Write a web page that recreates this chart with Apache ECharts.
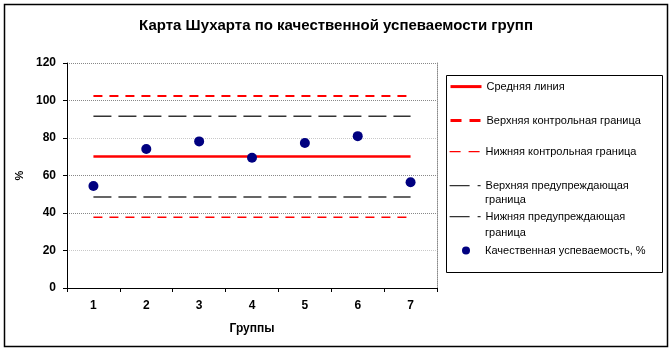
<!DOCTYPE html>
<html>
<head>
<meta charset="utf-8">
<script src="https://cdn.jsdelivr.net/npm/echarts@6/dist/echarts.min.js"></script>
<style>
  html, body { margin: 0; padding: 0; background: #fff; }
  #chart { width: 672px; height: 352px; }
</style>
</head>
<body>
<div id="chart"></div>
<script>
// группы и значения
const groups = ['1', '2', '3', '4', '5', '6', '7'];
const quality = [54.4, 74.1, 78.2, 69.5, 77.3, 81.0, 56.4];
const meanLine = [70.1, 70.1, 70.1, 70.1, 70.1, 70.1, 70.1];
const upperControl = [102.4, 102.4, 102.4, 102.4, 102.4, 102.4, 102.4];
const lowerControl = [37.7, 37.7, 37.7, 37.7, 37.7, 37.7, 37.7];
const upperWarning = [91.6, 91.6, 91.6, 91.6, 91.6, 91.6, 91.6];
const lowerWarning = [48.5, 48.5, 48.5, 48.5, 48.5, 48.5, 48.5];
const yTicks = [0, 20, 40, 60, 80, 100, 120];

const names = [
  'Средняя линия',
  'Верхняя контрольная граница',
  'Нижняя контрольная граница',
  'Верхняя предупреждающая граница',
  'Нижняя предупреждающая граница',
  'Качественная успеваемость, %'
];
// в легенде длинные подписи переносятся, второе слово рисуется отдельно
const legendText = {
  'Верхняя предупреждающая граница': 'Верхняя предупреждающая',
  'Нижняя предупреждающая граница': 'Нижняя предупреждающая'
};
const legendTops = [81, 115, 146, 180, 211, 245];
const legendLines = [
  { color: '#ff0000', width: 3, type: 'solid' },
  { color: '#ff0000', width: 3, type: [11, 8] },
  { color: '#ff0000', width: 1.2, type: [11, 8] },
  { color: '#333', width: 1.2, type: [20, 8] },
  { color: '#333', width: 1.2, type: [20, 8] },
  null
];

const font = 'Arial, "Liberation Sans", sans-serif';

const chart = echarts.init(document.getElementById('chart'), null, { renderer: 'canvas' });

const legends = names.map((n, i) => {
  const isLine = !!legendLines[i];
  const item = isLine
    ? { name: n, itemStyle: { opacity: 0 }, lineStyle: legendLines[i] }
    : { name: n, icon: 'circle', itemStyle: { color: '#000080', opacity: 1 } };
  return {
    show: true,
    orient: 'vertical',
    left: isLine ? 449 : 462,
    top: legendTops[i],
    itemWidth: isLine ? 31 : 8,
    itemHeight: isLine ? 14 : 8,
    itemGap: 0,
    padding: 0,
    data: [item],
    selectedMode: false,
    formatter: (name) => legendText[name] || name,
    textStyle: {
      fontFamily: font, fontSize: 11, color: '#000',
      padding: isLine ? 0 : [0, 0, 0, 10]
    }
  };
});

chart.setOption({
  animation: false,
  title: {
    text: 'Карта Шухарта по качественной успеваемости групп',
    left: 331,
    textAlign: 'center',
    top: 13,
    textStyle: { fontFamily: font, fontSize: 15, fontWeight: 'bold', color: '#000' }
  },
  legend: legends,
  grid: { left: 67, right: 235, top: 63, bottom: 64 },
  xAxis: {
    type: 'category',
    data: groups,
    boundaryGap: true,
    name: 'Группы',
    nameLocation: 'middle',
    nameGap: 35,
    nameTextStyle: { fontFamily: font, fontSize: 12, fontWeight: 'bold', color: '#000' },
    axisLine: { lineStyle: { color: '#000', width: 1 } },
    axisTick: { show: true, length: 4, lineStyle: { color: '#000' } },
    axisLabel: { margin: 12, fontFamily: font, fontSize: 12, fontWeight: 'bold', color: '#000' },
    splitLine: { show: false }
  },
  yAxis: [
    {
      type: 'value',
      min: 0,
      max: 120,
      interval: 20,
      name: '%',
      nameLocation: 'middle',
      nameGap: 40,
      nameRotate: 90,
      nameTextStyle: { fontFamily: font, fontSize: 11, fontWeight: 'bold', color: '#000' },
      axisLine: { show: true, lineStyle: { color: '#000', width: 1 } },
      axisTick: { show: true, length: 4, lineStyle: { color: '#000' } },
      axisLabel: {
        margin: 11, fontFamily: font, fontSize: 12, fontWeight: 'bold', color: '#000',
        formatter: (v) => yTicks.includes(v) ? String(v) : ''
      },
      splitLine: {
        show: true,
        lineStyle: {
          color: ['#888', '#c8c8c8', '#888', '#888', '#c8c8c8', '#888', '#888'],
          type: 'dotted',
          width: 1
        }
      }
    },
    {
      type: 'value',
      min: 0,
      max: 120,
      interval: 20,
      position: 'right',
      axisLine: { show: true, lineStyle: { color: '#888', type: 'dotted', width: 1 } },
      axisTick: { show: false },
      axisLabel: { show: false },
      splitLine: { show: false }
    }
  ],
  series: [
    {
      name: names[0], type: 'line', data: meanLine, symbol: 'none',
      lineStyle: { color: '#ff0000', width: 2.5 }, itemStyle: { color: '#ff0000' }, z: 3
    },
    {
      name: names[1], type: 'line', data: upperControl, symbol: 'none',
      lineStyle: { color: '#ff0000', width: 1.8, type: [9, 7] }, itemStyle: { color: '#ff0000' }
    },
    {
      name: names[2], type: 'line', data: lowerControl, symbol: 'none',
      lineStyle: { color: '#ff0000', width: 1.5, type: [9, 7] }, itemStyle: { color: '#ff0000' }
    },
    {
      name: names[3], type: 'line', data: upperWarning, symbol: 'none',
      lineStyle: { color: '#333', width: 1.5, type: [18, 7] }, itemStyle: { color: '#333' }
    },
    {
      name: names[4], type: 'line', data: lowerWarning, symbol: 'none',
      lineStyle: { color: '#333', width: 1.5, type: [18, 7] }, itemStyle: { color: '#333' }
    },
    {
      name: names[5], type: 'scatter', data: quality, symbol: 'circle', symbolSize: 10,
      itemStyle: { color: '#000080', opacity: 1 }, z: 4
    }
  ],
  graphic: [
    {
      type: 'rect',
      shape: { x: 4.5, y: 4.5, width: 663, height: 342 },
      style: { fill: null, stroke: '#000', lineWidth: 1.5 },
      silent: true
    },
    {
      type: 'rect',
      shape: { x: 446.5, y: 75.5, width: 216, height: 197 },
      style: { fill: null, stroke: '#000', lineWidth: 1 },
      silent: true
    },
    {
      type: 'text', left: 485, top: 194, silent: true,
      style: { text: 'граница', font: '11px ' + font, fill: '#000' }
    },
    {
      type: 'text', left: 485, top: 227, silent: true,
      style: { text: 'граница', font: '11px ' + font, fill: '#000' }
    }
  ]
});
</script>
</body>
</html>
